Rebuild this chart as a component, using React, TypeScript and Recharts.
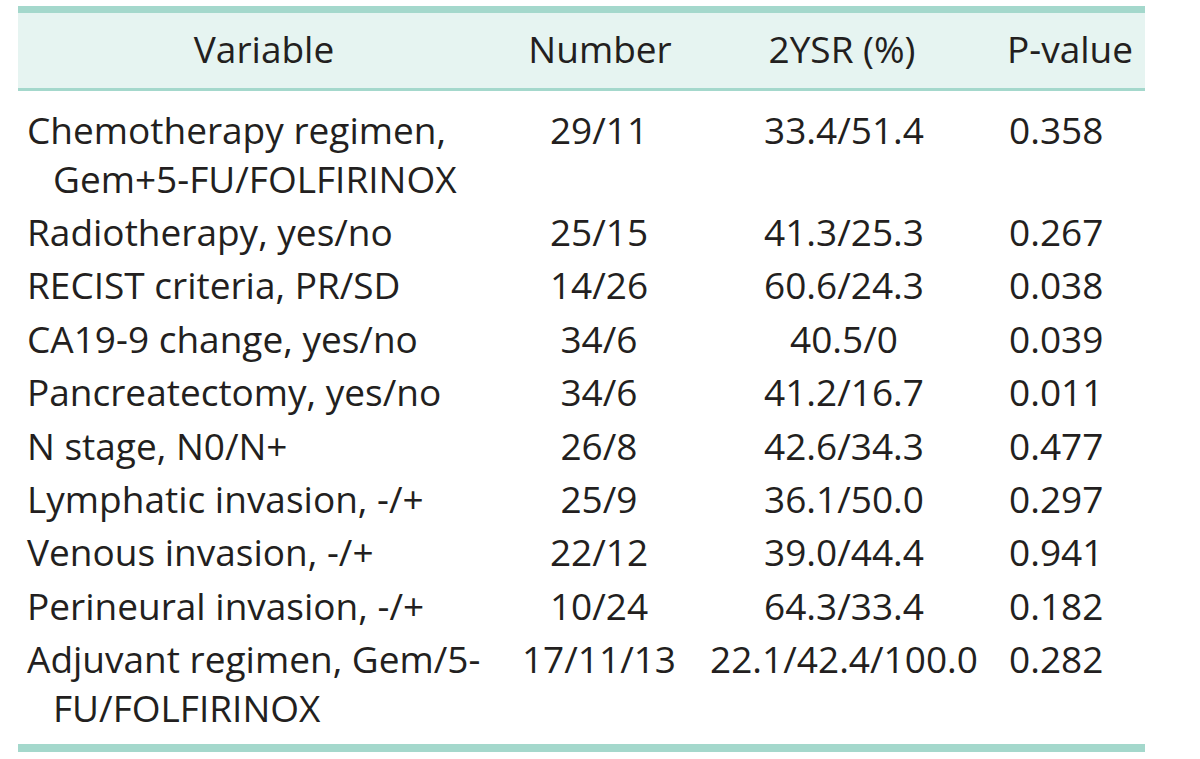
import React from 'react';
import { ScatterChart, Scatter, XAxis, YAxis, ReferenceArea } from 'recharts';

// ---- data ----
const headers = ['Variable', 'Number', '2YSR (%)', 'P-value'];
const variables: string[][] = [
  ['Chemotherapy regimen,', 'Gem+5-FU/FOLFIRINOX'],
  ['Radiotherapy, yes/no'],
  ['RECIST criteria, PR/SD'],
  ['CA19-9 change, yes/no'],
  ['Pancreatectomy, yes/no'],
  ['N stage, N0/N+'],
  ['Lymphatic invasion, -/+'],
  ['Venous invasion, -/+'],
  ['Perineural invasion, -/+'],
  ['Adjuvant regimen, Gem/5-', 'FU/FOLFIRINOX'],
];
const numbers = ['29/11', '25/15', '14/26', '34/6', '34/6', '26/8', '25/9', '22/12', '10/24', '17/11/13'];
const survival = ['33.4/51.4', '41.3/25.3', '60.6/24.3', '40.5/0', '41.2/16.7', '42.6/34.3', '36.1/50.0', '39.0/44.4', '64.3/33.4', '22.1/42.4/100.0'];
const pValues = ['0.358', '0.267', '0.038', '0.039', '0.011', '0.477', '0.297', '0.941', '0.182', '0.282'];

// ---- layout ----
const W = 1200;
const H = 759;
const FIRST_BASELINE = 144;
const ROW_STEP = 53.4;
const WRAP_STEP = 0.91; // fraction of a row step for a wrapped line
const toSlot = (px: number) => (px - FIRST_BASELINE) / ROW_STEP;
const FONT = '"Open Sans", Lato, sans-serif';
const FONT_SIZE = 37;
const TEXT_COLOR = '#231f20';
const RULE_COLOR = '#a4d8cc';
const HEAD_BG = '#e6f4f1';

const COL = { variable: 27, indent: 53, number: 599, survival: 844, p: 1009 };
const HEAD_X = [264, 600, 842, 1007];
const HEAD_ANCHOR = ['middle', 'middle', 'middle', 'start'];

type Cell = { x: number; y: number; text: string; anchor: string };

const rowSlots: number[] = [];
{
  let extra = 0;
  variables.forEach((lines, i) => {
    rowSlots.push(i + extra * WRAP_STEP);
    extra += lines.length - 1;
  });
}

const bodyCells: Cell[] = [];
variables.forEach((lines, i) => {
  lines.forEach((line, j) => {
    bodyCells.push({ x: j === 0 ? COL.variable : COL.indent, y: rowSlots[i] + j * WRAP_STEP, text: line, anchor: 'start' });
  });
  bodyCells.push({ x: COL.number, y: rowSlots[i], text: numbers[i], anchor: 'middle' });
  bodyCells.push({ x: COL.survival, y: rowSlots[i], text: survival[i], anchor: 'middle' });
  bodyCells.push({ x: COL.p, y: rowSlots[i], text: pValues[i], anchor: 'start' });
});

const headerCells: Cell[] = headers.map((h, i) => ({ x: HEAD_X[i], y: toSlot(63), text: h, anchor: HEAD_ANCHOR[i] }));

const TextShape = (props: any) => {
  const { cx, cy, payload } = props;
  return (
    <text
      x={cx}
      y={cy}
      textAnchor={payload.anchor}
      fontFamily={FONT}
      fontSize={FONT_SIZE}
      fill={TEXT_COLOR}
    >
      {payload.text}
    </text>
  );
};

export default function App() {
  return (
    <div style={{ position: 'absolute', left: 0, top: 0, background: '#fff' }}>
      <ScatterChart width={W} height={H} margin={{ top: 0, right: 0, bottom: 0, left: 0 }}>
        <XAxis type="number" dataKey="x" domain={[0, W]} hide />
        <YAxis type="number" dataKey="y" domain={[toSlot(0), toSlot(H)]} reversed hide />
        <ReferenceArea x1={18} x2={1145} y1={toSlot(13)} y2={toSlot(88)} fill={HEAD_BG} fillOpacity={1} stroke="none" ifOverflow="visible" />
        <ReferenceArea x1={18} x2={1145} y1={toSlot(6)} y2={toSlot(13)} fill={RULE_COLOR} fillOpacity={1} stroke="none" ifOverflow="visible" />
        <ReferenceArea x1={18} x2={1145} y1={toSlot(88)} y2={toSlot(91)} fill={RULE_COLOR} fillOpacity={1} stroke="none" ifOverflow="visible" />
        <ReferenceArea x1={18} x2={1145} y1={toSlot(744)} y2={toSlot(752)} fill={RULE_COLOR} fillOpacity={1} stroke="none" ifOverflow="visible" />
        <Scatter data={headerCells} shape={TextShape} isAnimationActive={false} />
        <Scatter data={bodyCells} shape={TextShape} isAnimationActive={false} />
      </ScatterChart>
    </div>
  );
}
